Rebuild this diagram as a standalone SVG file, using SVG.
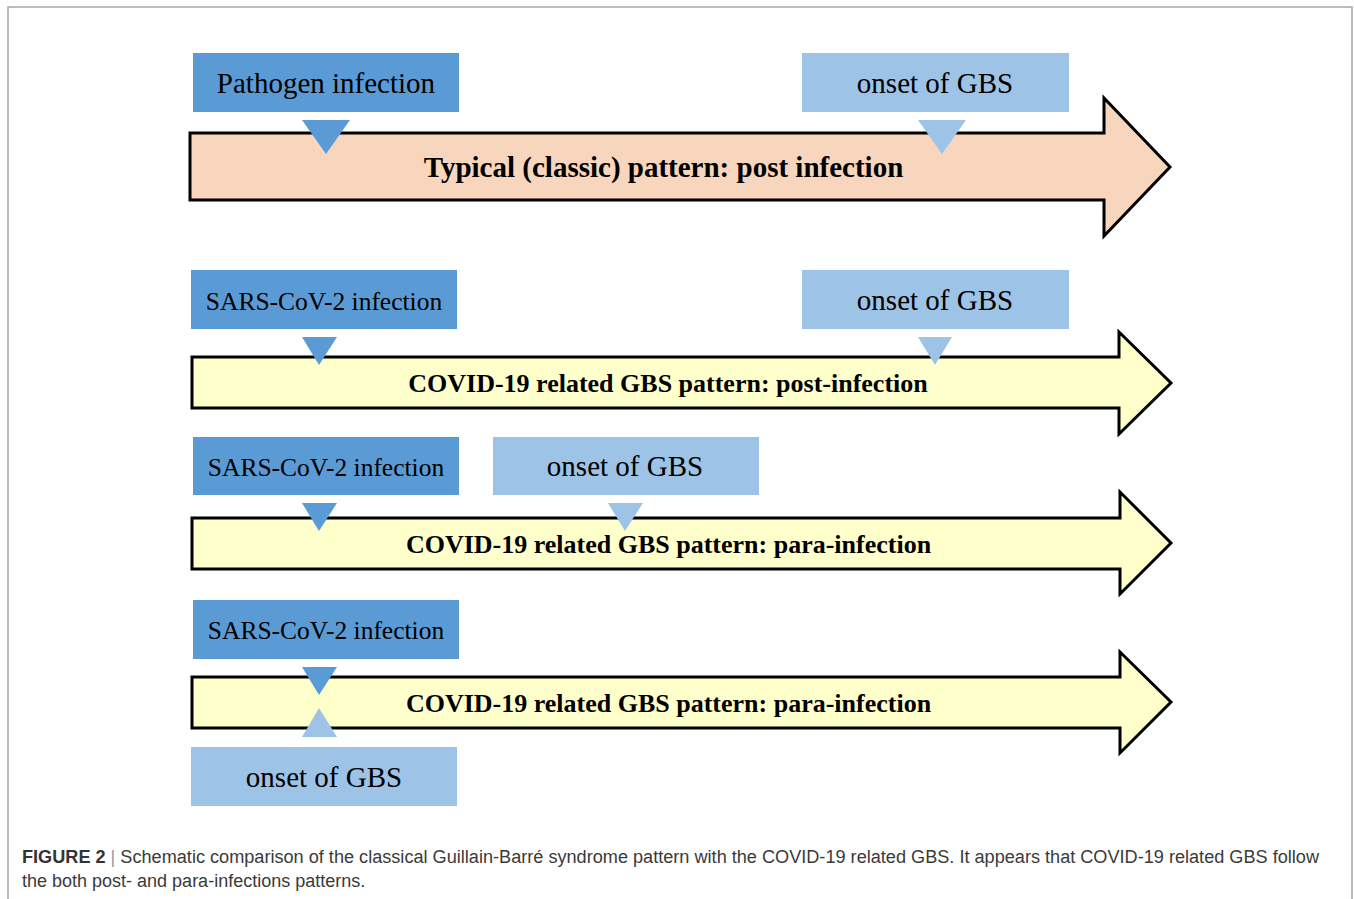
<svg xmlns="http://www.w3.org/2000/svg" width="1354" height="899" viewBox="0 0 1354 899">
<style>
.frame{fill:none;stroke:#a6a6a6;stroke-width:1.5}
.arrow{stroke:#000;stroke-width:3;stroke-linejoin:miter}
.peach{fill:#f8d5bd}
.yellow{fill:#ffffcc}
.dark{fill:#5b9bd5}
.light{fill:#9dc3e6}
.t{font-family:"Liberation Serif","Times New Roman",serif;fill:#000;text-anchor:middle}
.lab{font-family:"Liberation Serif","Times New Roman",serif;font-weight:bold;fill:#000;text-anchor:middle}
.cap{font-family:"Liberation Sans",Arial,sans-serif;font-size:18px;fill:#3a3a3a}
</style>
<rect width="1354" height="899" fill="#fff"/>
<path class="frame" d="M8,899 V7 H1352 V899"/>

<g id="timeline1">
<path class="arrow peach" d="M190,133 H1104 V98 L1170,167 L1104,236 V200 H190 Z"/>
<text class="lab" x="663.5" y="177" font-size="29">Typical (classic) pattern: post infection</text>
</g>
<g id="pathogen1">
<rect class="dark" x="193" y="53" width="266" height="59"/>
<text class="t" x="326" y="93" font-size="29">Pathogen infection</text>
</g>
<g id="onset1">
<rect class="light" x="802" y="53" width="267" height="59"/>
<text class="t" x="935" y="93" font-size="29">onset of GBS</text>
</g>

<g id="timeline2">
<path class="arrow yellow" d="M192,357 H1119 V332 L1171,383 L1119,434 V408 H192 Z"/>
<text class="lab" x="668" y="392" font-size="26">COVID-19 related GBS pattern: post-infection</text>
</g>
<g id="sars2">
<rect class="dark" x="191" y="270" width="266" height="59"/>
<text class="t" x="324" y="310" font-size="25.5">SARS-CoV-2 infection</text>
</g>
<g id="onset2">
<rect class="light" x="802" y="270" width="267" height="59"/>
<text class="t" x="935" y="310" font-size="29">onset of GBS</text>
</g>

<g id="timeline3">
<path class="arrow yellow" d="M192,518 H1120 V492 L1171,543 L1120,594 V569 H192 Z"/>
<text class="lab" x="668.5" y="553" font-size="26">COVID-19 related GBS pattern: para-infection</text>
</g>
<g id="sars3">
<rect class="dark" x="193" y="437" width="266" height="58"/>
<text class="t" x="326" y="476" font-size="25.5">SARS-CoV-2 infection</text>
</g>
<g id="onset3">
<rect class="light" x="493" y="437" width="266" height="58"/>
<text class="t" x="625" y="476" font-size="29">onset of GBS</text>
</g>

<g id="timeline4">
<path class="arrow yellow" d="M192,677 H1120 V652 L1171,702 L1120,753 V728 H192 Z"/>
<text class="lab" x="668.5" y="712" font-size="26">COVID-19 related GBS pattern: para-infection</text>
</g>
<g id="sars4">
<rect class="dark" x="193" y="600" width="266" height="59"/>
<text class="t" x="326" y="639" font-size="25.5">SARS-CoV-2 infection</text>
</g>
<g id="onset4">
<rect class="light" x="191" y="747" width="266" height="59"/>
<text class="t" x="324" y="787" font-size="29">onset of GBS</text>
</g>

<g id="connectors">
<polygon class="dark" points="302,120 350,120 326,154"/>
<polygon class="light" points="918,120 966,120 942,154"/>
<polygon class="dark" points="302,337 337,337 319,365"/>
<polygon class="light" points="918,337 952,337 935,365"/>
<polygon class="dark" points="302,503 337,503 319,531"/>
<polygon class="light" points="608,503 643,503 625,531"/>
<polygon class="dark" points="302,667 337,667 319,695"/>
<polygon class="light" points="302,737 337,737 319,708"/>
</g>

<g id="caption">
<text class="cap" x="22" y="863" textLength="1297" lengthAdjust="spacingAndGlyphs"><tspan font-weight="bold" fill="#333">FIGURE 2</tspan><tspan fill="#999"> | </tspan>Schematic comparison of the classical Guillain-Barré syndrome pattern with the COVID-19 related GBS. It appears that COVID-19 related GBS follow</text>
<text class="cap" x="22" y="887">the both post- and para-infections patterns.</text>
</g>
</svg>
